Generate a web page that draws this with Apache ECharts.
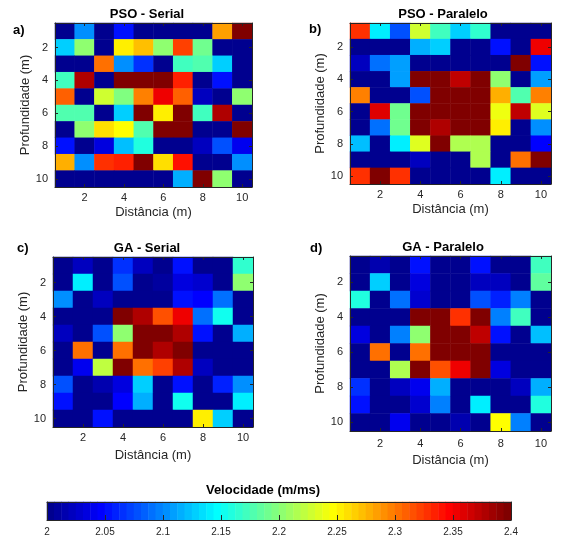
<!DOCTYPE html>
<html><head><meta charset="utf-8">
<script src="https://cdn.jsdelivr.net/npm/echarts@6/dist/echarts.min.js"></script>
<style>html,body{margin:0;padding:0;background:#fff}#c{width:566px;height:539px}</style>
</head><body><div id="c"></div><script>
// ---- data ----
const positions = [1, 2, 3, 4, 5, 6, 7, 8, 9, 10];   // Distância / Profundidade (m)
const shownTicks = [2, 4, 6, 8, 10];

// rows = Profundidade 1..10 (top to bottom), columns = Distância 1..10
const psoSerial = [
  [2.00, 2.105, 2.00, 2.05, 2.00, 2.00, 2.00, 2.00, 2.285, 2.40],
  [2.13, 2.20, 2.00, 2.25, 2.27, 2.20, 2.32, 2.19, 2.00, 2.00],
  [2.00, 2.00, 2.305, 2.10, 2.065, 2.00, 2.17, 2.175, 2.13, 2.00],
  [2.17, 2.38, 2.00, 2.40, 2.40, 2.40, 2.335, 2.00, 2.05, 2.00],
  [2.31, 2.00, 2.23, 2.195, 2.295, 2.35, 2.31, 2.02, 2.00, 2.205],
  [2.18, 2.175, 2.00, 2.13, 2.40, 2.25, 2.40, 2.17, 2.38, 2.00],
  [2.00, 2.20, 2.26, 2.245, 2.18, 2.40, 2.40, 2.00, 2.00, 2.40],
  [2.05, 2.00, 2.035, 2.12, 2.16, 2.00, 2.00, 2.02, 2.075, 2.04],
  [2.28, 2.10, 2.33, 2.335, 2.40, 2.26, 2.34, 2.00, 2.00, 2.105],
  [2.00, 2.00, 2.00, 2.00, 2.00, 2.00, 2.115, 2.40, 2.20, 2.00]
];
const psoParalelo = [
  [2.33, 2.14, 2.075, 2.225, 2.17, 2.125, 2.165, 2.00, 2.00, 2.00],
  [2.00, 2.00, 2.00, 2.115, 2.13, 2.00, 2.00, 2.055, 2.00, 2.35],
  [2.02, 2.09, 2.11, 2.00, 2.00, 2.00, 2.00, 2.00, 2.40, 2.055],
  [2.00, 2.00, 2.11, 2.40, 2.40, 2.37, 2.40, 2.20, 2.00, 2.11],
  [2.295, 2.00, 2.00, 2.075, 2.40, 2.40, 2.40, 2.275, 2.175, 2.295],
  [2.00, 2.36, 2.19, 2.40, 2.40, 2.40, 2.40, 2.24, 2.37, 2.235],
  [2.00, 2.09, 2.19, 2.40, 2.38, 2.40, 2.40, 2.255, 2.00, 2.10],
  [2.12, 2.00, 2.14, 2.235, 2.40, 2.215, 2.215, 2.00, 2.00, 2.045],
  [2.00, 2.00, 2.00, 2.02, 2.00, 2.00, 2.215, 2.00, 2.30, 2.40],
  [2.325, 2.40, 2.325, 2.00, 2.00, 2.00, 2.00, 2.14, 2.00, 2.00]
];
const gaSerial = [
  [2.00, 2.02, 2.00, 2.065, 2.02, 2.00, 2.055, 2.00, 2.00, 2.165],
  [2.00, 2.14, 2.00, 2.075, 2.00, 2.01, 2.035, 2.03, 2.00, 2.20],
  [2.105, 2.00, 2.02, 2.00, 2.00, 2.00, 2.055, 2.048, 2.09, 2.00],
  [2.00, 2.00, 2.00, 2.40, 2.375, 2.315, 2.355, 2.09, 2.15, 2.00],
  [2.02, 2.00, 2.08, 2.205, 2.40, 2.40, 2.38, 2.05, 2.00, 2.115],
  [2.00, 2.305, 2.00, 2.305, 2.40, 2.375, 2.40, 2.00, 2.00, 2.00],
  [2.00, 2.04, 2.22, 2.40, 2.305, 2.32, 2.38, 2.02, 2.00, 2.00],
  [2.08, 2.00, 2.015, 2.035, 2.13, 2.00, 2.05, 2.00, 2.06, 2.10],
  [2.05, 2.00, 2.00, 2.045, 2.115, 2.00, 2.15, 2.00, 2.00, 2.14],
  [2.00, 2.00, 2.05, 2.00, 2.00, 2.00, 2.00, 2.25, 2.13, 2.00]
];
const gaParalelo = [
  [2.00, 2.015, 2.00, 2.05, 2.00, 2.00, 2.055, 2.00, 2.00, 2.17],
  [2.00, 2.125, 2.00, 2.035, 2.00, 2.00, 2.02, 2.02, 2.00, 2.185],
  [2.16, 2.00, 2.09, 2.025, 2.00, 2.00, 2.075, 2.06, 2.095, 2.00],
  [2.00, 2.00, 2.00, 2.40, 2.40, 2.33, 2.40, 2.095, 2.17, 2.00],
  [2.035, 2.00, 2.095, 2.205, 2.40, 2.40, 2.37, 2.055, 2.00, 2.12],
  [2.00, 2.30, 2.00, 2.30, 2.40, 2.40, 2.40, 2.00, 2.00, 2.00],
  [2.00, 2.00, 2.215, 2.40, 2.315, 2.355, 2.40, 2.035, 2.00, 2.00],
  [2.065, 2.00, 2.02, 2.04, 2.115, 2.00, 2.00, 2.00, 2.02, 2.115],
  [2.05, 2.00, 2.00, 2.025, 2.095, 2.00, 2.14, 2.00, 2.00, 2.16],
  [2.00, 2.00, 2.04, 2.00, 2.00, 2.015, 2.00, 2.245, 2.095, 2.00]
];

const panelTitles = ['PSO - Serial', 'PSO - Paralelo', 'GA - Serial', 'GA - Paralelo'];
const panelLetters = ['a)', 'b)', 'c)', 'd)'];
const xName = 'Distância (m)';
const yName = 'Profundidade (m)';
const cbTitle = 'Velocidade (m/ms)';
const cbMin = 2, cbMax = 2.4, cbStep = 0.05;
const nColors = 64;

// ---- MATLAB jet(64) ----
function jet(m) {
  const n = Math.ceil(m / 4);
  const u = [];
  for (let i = 1; i <= n; i++) u.push(i / n);
  for (let i = 0; i < n - 1; i++) u.push(1);
  for (let i = n; i >= 1; i--) u.push(i / n);
  const off = Math.ceil(n / 2) - (m % 4 === 1 ? 1 : 0);
  const J = Array.from({length: m}, () => [0, 0, 0]);
  for (let k = 0; k < u.length; k++) {
    const g = off + k + 1, r = g + n, b = g - n;
    if (g >= 1 && g <= m) J[g - 1][1] = u[k];
    if (r >= 1 && r <= m) J[r - 1][0] = u[k];
    if (b >= 1 && b <= m) J[b - 1][2] = u[k];
  }
  return J.map(c => 'rgb(' + c.map(x => Math.round(x * 255)).join(',') + ')');
}
const colors = jet(nColors);
const binW = (cbMax - cbMin) / nColors;
const pieces = colors.map((c, i) => {
  const p = {color: c};
  if (i > 0) p.gte = cbMin + i * binW - 1e-9;
  if (i < nColors - 1) p.lt = cbMin + (i + 1) * binW - 1e-9;
  return p;
});

const FONT = 'Liberation Sans, Arial, Helvetica, sans-serif';
const AX = '#262626';
const grids = [
  {left: 55, top: 23, width: 197, height: 164},
  {left: 350, top: 23, width: 201, height: 161},
  {left: 53, top: 257, width: 200, height: 170},
  {left: 350, top: 256, width: 201, height: 175},
  {left: 47, top: 502, width: 464, height: 18}
];
const xNameGaps = [19, 19, 22, 23];
const xLabelMargins = [5, 5, 5, 7];
const datasets = [psoSerial, psoParalelo, gaSerial, gaParalelo];

const showEven = (idx, val) => shownTicks.indexOf(positions[idx]) >= 0;

const xAxes = [], yAxes = [], series = [];
datasets.forEach((rows, g) => {
  const base = {type: 'category', data: positions, gridIndex: g, z: 5,
    axisLine: {show: true, lineStyle: {color: AX, width: 1}},
    axisTick: {show: true, inside: true, length: 3, alignWithLabel: true, interval: showEven, lineStyle: {color: AX}},
    splitLine: {show: false}};
  xAxes.push(Object.assign({}, base, {position: 'bottom',
    axisLabel: {interval: showEven, color: AX, fontSize: 11, fontFamily: FONT, margin: xLabelMargins[g]},
    name: xName, nameLocation: 'middle', nameGap: xNameGaps[g],
    nameTextStyle: {color: AX, fontSize: 13, fontFamily: FONT}}));
  xAxes.push(Object.assign({}, base, {position: 'top', axisLabel: {show: false}}));
  yAxes.push(Object.assign({}, base, {position: 'left', inverse: true,
    axisLabel: {interval: showEven, color: AX, fontSize: 11, fontFamily: FONT, margin: 7},
    name: yName, nameLocation: 'middle', nameGap: 22,
    nameTextStyle: {color: AX, fontSize: 13, fontFamily: FONT}}));
  yAxes.push(Object.assign({}, base, {position: 'right', inverse: true, axisLabel: {show: false}}));
  const data = [];
  rows.forEach((r, yi) => r.forEach((v, xi) => data.push([xi, yi, v])));
  series.push({type: 'heatmap', xAxisIndex: 2 * g, yAxisIndex: 2 * g, data: data,
    itemStyle: {borderWidth: 0}, emphasis: {disabled: true}, progressive: 0});
});

// colorbar
const cbBins = colors.map((c, i) => i);
const cbData = cbBins.map(i => [i, 0, cbMin + (i + 0.5) * binW]);
xAxes.push({type: 'category', data: cbBins, gridIndex: 4, position: 'top', z: 5,
  axisLine: {show: true, lineStyle: {color: AX}}, axisTick: {show: false}, axisLabel: {show: false}});
xAxes.push({type: 'value', gridIndex: 4, position: 'bottom', min: cbMin, max: cbMax, interval: cbStep, z: 5,
  axisLine: {show: true, lineStyle: {color: AX}}, splitLine: {show: false},
  axisTick: {show: true, inside: true, length: 5, lineStyle: {color: AX}},
  axisLabel: {color: AX, fontSize: 10, fontFamily: FONT, margin: 7,
    formatter: v => String(+v.toFixed(2))}});
yAxes.push({type: 'category', data: [0], gridIndex: 4, position: 'left', z: 5,
  axisLine: {show: true, lineStyle: {color: AX}}, axisTick: {show: false}, axisLabel: {show: false}});
yAxes.push({type: 'category', data: [0], gridIndex: 4, position: 'right', z: 5,
  axisLine: {show: true, lineStyle: {color: AX}}, axisTick: {show: false}, axisLabel: {show: false}});
series.push({type: 'heatmap', xAxisIndex: 8, yAxisIndex: 8, data: cbData,
  itemStyle: {borderWidth: 0}, emphasis: {disabled: true}, progressive: 0});

const titlePos = [[147, 14], [443, 14], [147, 248], [443, 247]];
const letterPos = [[13, 30], [309, 29], [17, 248], [310, 248]];
const graphics = [];
panelTitles.forEach((t, i) => graphics.push({type: 'text', x: titlePos[i][0], y: titlePos[i][1],
  style: {text: t, fill: '#000', font: 'bold 13px ' + FONT, align: 'center', verticalAlign: 'middle'}}));
panelLetters.forEach((t, i) => graphics.push({type: 'text', x: letterPos[i][0], y: letterPos[i][1],
  style: {text: t, fill: '#000', font: 'bold 13px ' + FONT, align: 'left', verticalAlign: 'middle'}}));
graphics.push({type: 'text', x: 263, y: 490,
  style: {text: cbTitle, fill: '#000', font: 'bold 13px ' + FONT, align: 'center', verticalAlign: 'middle'}});

const chart = echarts.init(document.getElementById('c'), null, {renderer: 'canvas'});
chart.setOption({
  animation: false,
  backgroundColor: '#fff',
  grid: grids.map(g => Object.assign({containLabel: false}, g)),
  xAxis: xAxes,
  yAxis: yAxes,
  visualMap: {type: 'piecewise', show: false, dimension: 2, seriesIndex: [0, 1, 2, 3, 4], pieces: pieces},
  series: series,
  graphic: graphics
});
</script></body></html>
